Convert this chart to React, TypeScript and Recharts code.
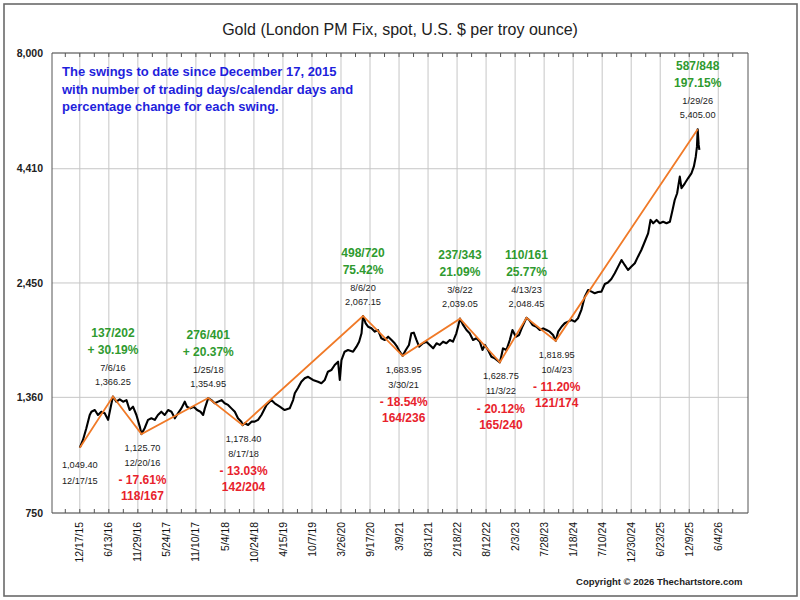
import React from 'react';
import { ComposedChart, Line, XAxis, YAxis, CartesianGrid, ReferenceLine } from 'recharts';

const FONT = '"Liberation Sans", Arial, Helvetica, sans-serif';

// x = trading-day index counted from 12/17/15
const priceDays = [
  0, 13, 27, 41, 48, 62, 75, 89, 103, 117, 131, 137, 151, 165, 179, 193, 206, 220, 234, 248,
  255, 268, 282, 296, 310, 323, 337, 351, 365, 379, 393, 406, 420, 434, 443, 457, 471, 485, 499, 510,
  517, 531, 544, 558, 572, 586, 599, 613, 627, 641, 654, 668, 673, 682, 696, 710, 723, 737, 751, 772,
  792, 806, 827, 847, 868, 882, 889, 902, 916, 930, 944, 964, 985, 999, 1013, 1026, 1040, 1054, 1068, 1075,
  1082, 1095, 1109, 1130, 1144, 1155, 1165, 1171, 1182, 1192, 1206, 1220, 1233, 1247, 1261, 1275, 1289, 1302, 1312, 1323,
  1335, 1348, 1361, 1371, 1381, 1392, 1403, 1419, 1433, 1447, 1461, 1475, 1488, 1502, 1516, 1530, 1543, 1557, 1564, 1572,
  1585, 1599, 1612, 1626, 1640, 1654, 1665, 1675, 1688, 1702, 1716, 1737, 1744, 1750, 1764, 1778, 1789, 1803, 1816, 1830,
  1847, 1858, 1872, 1888, 1902, 1916, 1930, 1943, 1957, 1968, 1978, 1992, 2005, 2019, 2033, 2047, 2060, 2074, 2088, 2102,
  2116, 2129, 2143, 2157, 2171, 2184, 2198, 2212, 2226, 2240, 2253, 2267, 2281, 2295, 2308, 2322, 2336, 2350, 2360, 2371,
  2385, 2398, 2412, 2426, 2440, 2451, 2460, 2470, 2481, 2488, 2502, 2515, 2529, 2539, 2547, 2552, 2555, 2559, 2562,
];
const priceValues = [
  1049.4, 1092, 1160, 1242, 1263, 1274, 1242, 1263, 1253, 1211, 1319, 1366.25, 1330, 1346, 1330, 1341, 1274, 1296, 1242, 1170,
  1125.7, 1160, 1211, 1221, 1211, 1242, 1263, 1242, 1274, 1263, 1221, 1253, 1285, 1330, 1296, 1285, 1296, 1274, 1263, 1242,
  1285, 1354.95, 1341, 1319, 1330, 1341, 1319, 1308, 1285, 1263, 1221, 1200, 1178.4, 1190, 1180, 1200, 1200, 1211, 1242, 1308,
  1341, 1319, 1296, 1274, 1285, 1341, 1389, 1427, 1474, 1500, 1512, 1487, 1474, 1462, 1487, 1552, 1565, 1606, 1634, 1487,
  1648, 1720, 1735, 1720, 1765, 1811, 1891, 2067.15, 1991, 1956, 1940, 1907, 1923, 1843, 1827, 1858, 1827, 1796, 1765, 1720,
  1683.95, 1735, 1781, 1891, 1897, 1827, 1765, 1796, 1811, 1781, 1750, 1796, 1781, 1811, 1796, 1827, 1811, 1891, 1956, 2039.05,
  1974, 1923, 1891, 1827, 1843, 1811, 1735, 1781, 1735, 1676, 1662, 1628.75, 1691, 1750, 1735, 1827, 1923, 1858, 1874, 1956,
  2048.45, 2025, 1974, 1956, 1923, 1940, 1923, 1907, 1874, 1818.95, 1907, 1956, 1991, 2008, 2025, 2008, 2043, 2133, 2283, 2362,
  2343, 2324, 2339, 2343, 2437, 2456, 2501, 2575, 2665, 2757, 2688, 2619, 2665, 2711, 2805, 2903, 3029, 3163, 3389, 3331,
  3389, 3331, 3358, 3331, 3358, 3567, 3755, 3887, 4235, 3990, 4092, 4198, 4307, 4457, 4692, 4941, 5405, 4985, 4857,
];

// swing pivots
const pivotDays = [0, 137, 255, 531, 673, 1171, 1335, 1572, 1737, 1847, 1968, 2555];
const pivotPrices = [1049.4, 1366.25, 1125.7, 1354.95, 1178.4, 2067.15, 1683.95, 2039.05, 1628.75, 2048.45, 1818.95, 5405.0];
const pivotDates = ['12/17/15', '7/6/16', '12/20/16', '1/25/18', '8/17/18', '8/6/20', '3/30/21', '3/8/22', '11/3/22', '4/13/23', '10/4/23', '1/29/26'];
const swingDayCounts = ['', '137/202', '118/167', '276/401', '142/204', '498/720', '164/236', '237/343', '165/240', '110/161', '121/174', '587/848'];
const swingPercents = ['', '+ 30.19%', '- 17.61%', '+ 20.37%', '- 13.03%', '75.42%', '- 18.54%', '21.09%', '- 20.12%', '25.77%', '- 11.20%', '197.15%'];

const xTickLabels = ['12/17/15', '6/13/16', '11/29/16', '5/24/17', '11/10/17', '5/4/18', '10/24/18', '4/15/19', '10/7/19', '3/26/20', '9/17/20', '3/9/21', '8/31/21', '2/18/22', '8/12/22', '2/3/23', '7/28/23', '1/18/24', '7/10/24', '12/30/24', '6/23/25', '12/9/25', '6/4/26'];
const X_TICK_STEP = 120;
const X_DOMAIN: [number, number] = [-115, 2763];
const yTicks = [750, 1360, 2450, 4410, 8000];

const priceData = priceDays.map((d, i) => ({ d, p: priceValues[i] }));
const pivotData = pivotDays.map((d, i) => ({ d, p: pivotPrices[i] }));
const majorTicks = xTickLabels.map((_, i) => i * X_TICK_STEP);
const minorTicks: number[] = [];
for (let v = -X_TICK_STEP / 2; v <= X_DOMAIN[1] - 30; v += X_TICK_STEP / 2) minorTicks.push(v);

const GREEN = '#2f9a2f';
const RED = '#e8222c';
const BLUE = '#1f1fdc';
const ORANGE = '#f07a28';
const GRID = '#c6c6c6';
const AXIS = '#555';

const fmtPrice = (v: number) => v.toLocaleString('en-US', { minimumFractionDigits: 2, maximumFractionDigits: 2 });
const fmtTick = (v: number) => v.toLocaleString('en-US');

const BottomTick = (props: any) => {
  const { x, y, payload } = props;
  const v = payload.value;
  const idx = v / X_TICK_STEP;
  const isMajor = Number.isInteger(idx) && idx >= 0 && idx < xTickLabels.length;
  return (
    <g>
      <line x1={x} x2={x} y1={y} y2={y - 4} stroke={AXIS} strokeWidth={1} />
      {isMajor && (
        <text
          transform={`translate(${x + 3.6},${y + 9}) rotate(-90)`}
          textAnchor="end"
          fontSize={10.4}
          fontFamily={FONT}
          fill="#111"
        >
          {xTickLabels[idx]}
        </text>
      )}
    </g>
  );
};

const TopTick = (props: any) => {
  const { x, y } = props;
  return <line x1={x} x2={x} y1={y} y2={y + 4} stroke={AXIS} strokeWidth={1} />;
};

const PivotLabel = (props: any) => {
  const { cx, cy, index } = props;
  const key = `pv-${index}`;
  if (cx == null || cy == null) return <g key={key} />;
  const price = fmtPrice(pivotPrices[index]);
  const date = pivotDates[index];
  const small = { fontSize: 9.2, fontFamily: FONT, fill: '#1a1a1a', textAnchor: 'middle' as const };
  const big = { fontSize: 12, fontFamily: FONT, fontWeight: 700, textAnchor: 'middle' as const };
  if (index === 0) {
    return (
      <g key={key}>
        <text x={cx} y={cy + 17 + 3.3} {...small}>{price}</text>
        <text x={cx} y={cy + 33 + 3.3} {...small}>{date}</text>
      </g>
    );
  }
  const isPeak = pivotPrices[index] > pivotPrices[index - 1];
  if (isPeak) {
    return (
      <g key={key}>
        <text x={cx} y={cy - 14.5 + 3.3} {...small}>{price}</text>
        <text x={cx} y={cy - 28.5 + 3.3} {...small}>{date}</text>
        <text x={cx} y={cy - 46.5 + 4.3} {...big} fill={GREEN}>{swingPercents[index]}</text>
        <text x={cx} y={cy - 63.5 + 4.3} {...big} fill={GREEN}>{swingDayCounts[index]}</text>
      </g>
    );
  }
  return (
    <g key={key}>
      <text x={cx + 1} y={cy + 13.5 + 3.3} {...small}>{price}</text>
      <text x={cx + 1} y={cy + 28.5 + 3.3} {...small}>{date}</text>
      <text x={cx + 1} y={cy + 46 + 4.3} {...big} fill={RED}>{swingPercents[index]}</text>
      <text x={cx + 1} y={cy + 62 + 4.3} {...big} fill={RED}>{swingDayCounts[index]}</text>
    </g>
  );
};

const yTickStyle = { fontSize: 10.5, fontWeight: 700, fill: '#222', fontFamily: FONT };

export default function App() {
  return (
    <div style={{ position: 'absolute', left: 0, top: 0, width: 800, height: 600, background: '#fff', fontFamily: FONT }}>
      <ComposedChart width={800} height={600} data={priceData} margin={{ top: 43, right: 0, bottom: 0, left: 0 }}>
        <CartesianGrid xAxisId="b" yAxisId="l" vertical={false} stroke={GRID} />
        <XAxis
          xAxisId="b"
          dataKey="d"
          type="number"
          domain={X_DOMAIN}
          ticks={minorTicks}
          interval={0}
          height={87}
          tickSize={0}
          tickMargin={0}
          tickLine={false}
          axisLine={{ stroke: AXIS }}
          tick={<BottomTick />}
        />
        <XAxis
          xAxisId="t"
          orientation="top"
          dataKey="d"
          type="number"
          domain={X_DOMAIN}
          ticks={minorTicks}
          interval={0}
          height={10}
          tickSize={0}
          tickMargin={0}
          tickLine={false}
          axisLine={{ stroke: AXIS }}
          tick={<TopTick />}
        />
        <YAxis
          yAxisId="l"
          scale="log"
          domain={[750, 8000]}
          ticks={yTicks}
          interval={0}
          width={52}
          tickSize={0}
          tickMargin={9}
          tickLine={false}
          axisLine={{ stroke: AXIS }}
          tick={yTickStyle}
          tickFormatter={fmtTick}
        />
        <YAxis
          yAxisId="r"
          orientation="right"
          scale="log"
          domain={[750, 8000]}
          ticks={yTicks}
          interval={0}
          width={52}
          tickSize={0}
          tickMargin={9}
          tickLine={false}
          axisLine={{ stroke: AXIS }}
          tick={yTickStyle}
          tickFormatter={fmtTick}
        />
        {majorTicks.map((v) => (
          <ReferenceLine key={`vg-${v}`} xAxisId="b" yAxisId="l" x={v} stroke={GRID} strokeWidth={1} />
        ))}
        <Line
          xAxisId="b"
          yAxisId="l"
          data={priceData}
          dataKey="p"
          type="linear"
          stroke="#000"
          strokeWidth={2.1}
          strokeLinejoin="round"
          dot={false}
          activeDot={false}
          isAnimationActive={false}
        />
        <Line
          xAxisId="b"
          yAxisId="l"
          data={pivotData}
          dataKey="p"
          type="linear"
          stroke={ORANGE}
          strokeWidth={1.8}
          dot={PivotLabel}
          activeDot={false}
          isAnimationActive={false}
        />
      </ComposedChart>
      <svg width={800} height={600} style={{ position: 'absolute', left: 0, top: 0, pointerEvents: 'none' }}>
        <rect x={4} y={4} width={793} height={592} fill="none" stroke="#6a6a6a" strokeWidth={1.6} />
        <text x={400} y={35} textAnchor="middle" fontSize={16} fontFamily={FONT} fill="#222">
          Gold (London PM Fix, spot, U.S. $ per troy ounce)
        </text>
        <g fontSize={13} fontWeight={700} fontFamily={FONT} fill={BLUE}>
          <text x={62} y={76}>The swings to date since December 17, 2015</text>
          <text x={62} y={93.5}>with number of trading days/calendar days and</text>
          <text x={62} y={111}>percentage change for each swing.</text>
        </g>
        <text x={742.5} y={585} textAnchor="end" fontSize={9.5} fontWeight={700} fontFamily={FONT} fill="#222">
          Copyright © 2026 Thechartstore.com
        </text>
      </svg>
    </div>
  );
}
